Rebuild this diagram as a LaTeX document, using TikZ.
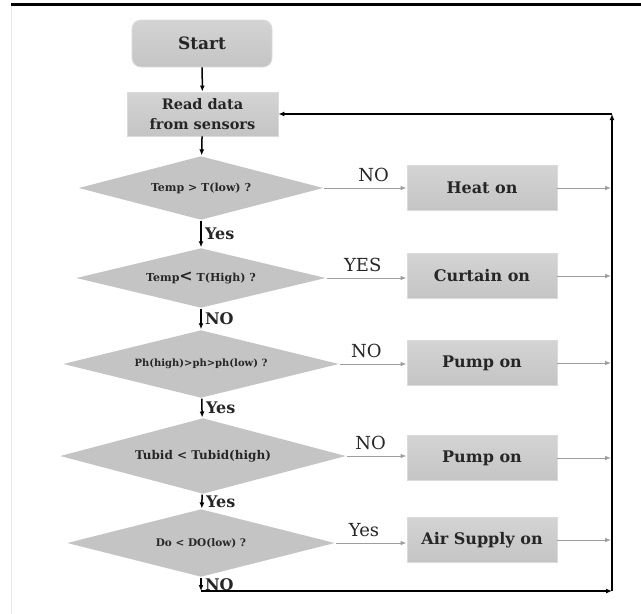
\documentclass[tikz,border=0pt]{standalone}
\usepackage{fontspec}
\setmainfont{DejaVu Serif}
\usetikzlibrary{arrows.meta,shapes.geometric}

\definecolor{boxtop}{gray}{0.83}
\definecolor{boxbot}{gray}{0.77}
\definecolor{boxline}{gray}{0.86}
\definecolor{condfill}{gray}{0.77}
\definecolor{sideline}{gray}{0.62}

\begin{document}
\begin{tikzpicture}[x=1pt, y=-1pt, line width=1.5pt,
  flow/.style={-{Latex[length=6pt,width=5pt]}, line width=1.5pt},
  side/.style={-{Latex[length=6pt,width=4.5pt]}, draw=sideline, line width=1pt},
  startbox/.style={draw=boxline, line width=0.8pt, rounded corners=9pt,
    top color=boxtop, bottom color=boxbot, minimum width=140, minimum height=47,
    text=black!85, font=\fontsize{17}{20}\selectfont\bfseries},
  readbox/.style={draw=boxline, line width=0.8pt, top color=boxtop, bottom color=boxbot,
    minimum width=151, minimum height=44, align=center, inner sep=1pt,
    text=black!85, font=\fontsize{14.5}{20}\selectfont\bfseries},
  actbox/.style={draw=boxline, line width=0.8pt, top color=boxtop, bottom color=boxbot,
    minimum width=150, minimum height=45,
    text=black!85, font=\fontsize{16}{19}\selectfont\bfseries},
  cond/.style={diamond, aspect=3.5, fill=condfill, inner sep=1pt,
    text=black!85, font=\fontsize{11}{13}\selectfont\bfseries},
  lbl/.style={text=black!85, font=\fontsize{18}{20}\selectfont},
  dlbl/.style={text=black!85, font=\fontsize{16}{18}\selectfont\bfseries}]
  \useasboundingbox (0,0) rectangle (641,614);
  \fill (11,2.5) rectangle (641,5.5);
  \draw[black!8, line width=0.8pt] (11.5,5.5) -- (11.5,614);

  \node[startbox] (start) at (202,43.5) {Start};
  \node[readbox] (read) at (202.5,114) {Read data\\from sensors};

  \node[cond, minimum width=245, minimum height=64] (c1) at (201,188)
    {Temp > T(low) ?};
  \node[cond, minimum width=250, minimum height=60] (c2) at (201,278)
    {Temp{\fontsize{16}{16}\selectfont<} T(High) ?};
  \node[cond, minimum width=276, minimum height=68, font=\fontsize{10}{12}\selectfont\bfseries]
    (c3) at (201,364) {Ph(high)>ph>ph(low) ?};
  \node[cond, minimum width=286, minimum height=76, font=\fontsize{12}{14}\selectfont\bfseries]
    (c4) at (203,456) {Tubid < Tubid(high)};
  \node[cond, minimum width=268, minimum height=68, font=\fontsize{10.5}{12}\selectfont\bfseries]
    (c5) at (201,543) {Do < DO(low) ?};

  \node[actbox] (heat) at (482,188) {Heat on};
  \node[actbox] (curtain) at (482,276) {Curtain on};
  \node[actbox] (pump1) at (482,363) {Pump on};
  \node[actbox] (pump2) at (482,458) {Pump on};
  \node[actbox] (air) at (482,540) {Air Supply on};

  \coordinate (tr) at (612,114);
  \coordinate (br) at (612,591);
  \coordinate (bl) at (201,591);

  \draw[flow] (start) -- (read);
  \draw[flow] (read) -- (c1);
  \draw[flow] (c1) -- (c2)
    node[midway, right, dlbl] {Yes};
  \draw[flow] (c2) -- (c3)
    node[midway, right, dlbl] {NO};
  \draw[flow] (c3) -- (c4)
    node[midway, right, dlbl] {Yes};
  \draw[flow] (c4) -- (c5)
    node[midway, right, dlbl] {Yes};
  \draw[flow] (c5.south) -- (bl)
    node[midway, right, dlbl] {NO};
  \draw[flow] (bl) -- (br);
  \draw[flow] (br) -- (tr);
  \draw[flow] (tr) -- (read.east);

  \draw[side] (c1.east) -- (c1.east -| heat.west)
    node[pos=0.6, above=2pt, lbl] {NO};
  \draw[side] (c2.east) -- (c2.east -| curtain.west)
    node[pos=0.45, above=2pt, lbl] {YES};
  \draw[side] (c3.east) -- (c3.east -| pump1.west)
    node[pos=0.4, above=2pt, lbl] {NO};
  \draw[side] (c4.east) -- (c4.east -| pump2.west)
    node[pos=0.4, above=2pt, lbl] {NO};
  \draw[side] (c5.east) -- (c5.east -| air.west)
    node[pos=0.4, above=2pt, lbl] {Yes};

  \draw[side, shorten >=0.8pt] (heat.east) -- (heat.east -| tr);
  \draw[side, shorten >=0.8pt] (curtain.east) -- (curtain.east -| tr);
  \draw[side, shorten >=0.8pt] (pump1.east) -- (pump1.east -| tr);
  \draw[side, shorten >=0.8pt] (pump2.east) -- (pump2.east -| tr);
  \draw[side, shorten >=0.8pt] (air.east) -- (air.east -| tr);
\end{tikzpicture}
\end{document}
